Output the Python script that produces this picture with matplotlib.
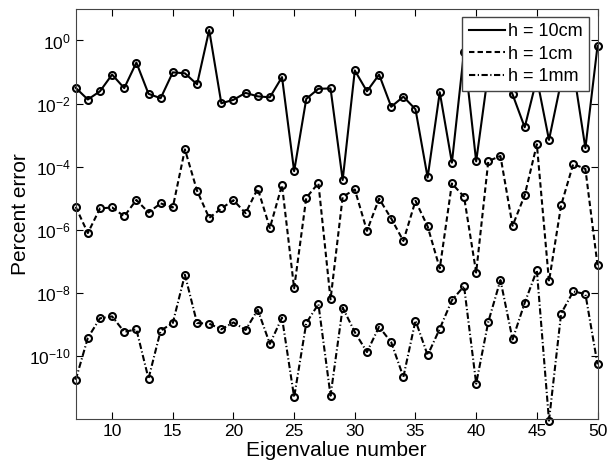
import numpy as np
import matplotlib
matplotlib.use('Agg')
import matplotlib.pyplot as plt

plt.rcParams['font.family'] = ['Liberation Sans', 'DejaVu Sans']
plt.rcParams['mathtext.fontset'] = 'custom'
plt.rcParams['mathtext.rm'] = 'Liberation Sans'
plt.rcParams['mathtext.default'] = 'regular'

eig_num = list(range(7, 51))

# log10 of percent error
log_err_10cm = [-1.50, -1.87, -1.61, -1.08, -1.51, -0.70, -1.69, -1.83, -1.01, -1.04,
                -1.39, 0.33, -1.99, -1.88, -1.66, -1.77, -1.80, -1.16, -4.14, -1.85,
                -1.53, -1.52, -4.42, -0.95, -1.61, -1.08, -2.10, -1.78, -2.18, -4.34,
                -1.64, -3.87, -0.35, -3.83, -1.0, -0.8, -1.71, -2.75, -1.2, -3.15,
                -1.3, -0.9, -3.41, -0.17]
log_err_1cm = [-5.27, -6.10, -5.32, -5.29, -5.57, -5.05, -5.45, -5.16, -5.29, -3.45,
               -4.76, -5.62, -5.32, -5.06, -5.47, -4.69, -5.94, -4.58, -7.85, -4.98,
               -4.52, -8.20, -4.95, -4.72, -6.03, -5.01, -5.64, -6.35, -5.08, -5.89,
               -7.22, -4.53, -4.95, -7.35, -3.82, -3.66, -5.87, -4.90, -3.29, -7.63,
               -5.22, -3.91, -4.07, -7.12]
log_err_1mm = [-10.75, -9.42, -8.80, -8.74, -9.23, -9.15, -10.71, -9.19, -8.95, -7.42,
               -8.95, -8.97, -9.15, -8.93, -9.17, -8.53, -9.61, -8.78, -11.30, -8.95,
               -8.35, -11.25, -8.46, -9.24, -9.87, -9.07, -9.56, -10.66, -8.87, -9.97,
               -9.13, -8.23, -7.78, -10.87, -8.91, -7.59, -9.47, -8.31, -7.28, -12.04,
               -8.65, -7.95, -8.03, -10.26]

fig = plt.figure(figsize=(6.07, 4.68), dpi=100)
ax = fig.add_axes([0.1247, 0.104, 0.8597, 0.877])

mk = dict(marker='o', mfc='none', mec='black', ms=5, mew=1.5, color='black', lw=1.5,
          clip_on=False)
ax.semilogy(eig_num, 10 ** np.array(log_err_10cm), '-', label='h = 10cm', **mk)
ax.semilogy(eig_num, 10 ** np.array(log_err_1cm), ls=(0, (2.6, 1.5)), label='h = 1cm', **mk)
ax.semilogy(eig_num, 10 ** np.array(log_err_1mm), ls=(0, (3.0, 1.2, 0.6, 1.2)), label='h = 1mm', **mk)

ax.set_xlim(7, 50)
ax.set_ylim(1e-12, 1e1)
ax.set_xticks([10, 15, 20, 25, 30, 35, 40, 45, 50])
ax.set_yticks([1e-10, 1e-8, 1e-6, 1e-4, 1e-2, 1e0])
ax.minorticks_off()
ax.tick_params(direction='in', top=True, right=True, labelsize=12.5, length=5)
for s in ax.spines.values():
    s.set_color('#444444')

ax.set_xlabel('Eigenvalue number', fontsize=15, labelpad=1)
ax.set_ylabel('Percent error', fontsize=15, labelpad=-1)

leg = ax.legend(loc='upper right', fontsize=13, fancybox=False, framealpha=1,
                edgecolor='#444444', handlelength=2.0, handletextpad=0.2,
                borderpad=0.35, labelspacing=0.3, borderaxespad=0.45)
leg.set_zorder(10)
for h in leg.legend_handles:
    h.set_marker('')

fig.savefig('out.png', dpi=100)
